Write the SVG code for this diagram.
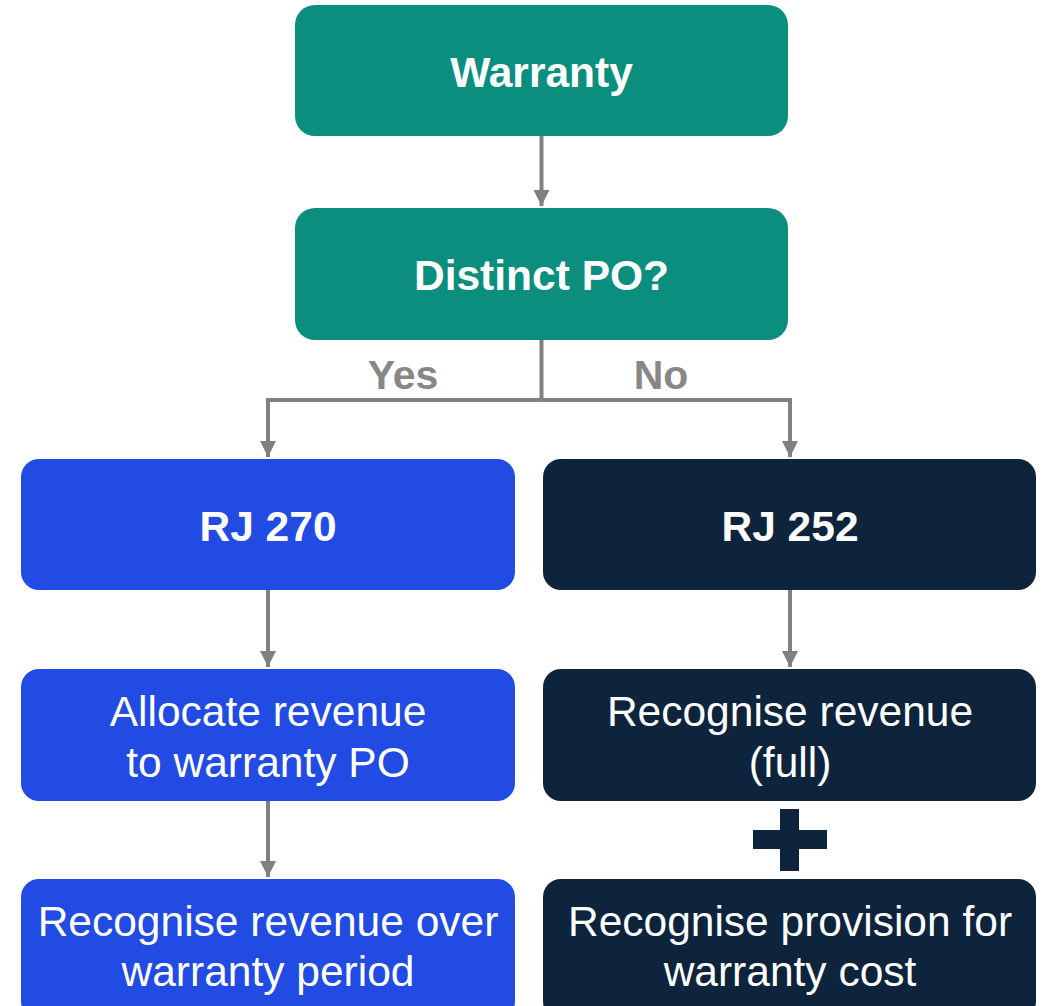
<svg xmlns="http://www.w3.org/2000/svg" width="1043" height="1006" viewBox="0 0 1043 1006">
  <style>
    .teal { fill: #0B8E7D; }
    .blue { fill: #214BE2; }
    .navy { fill: #0E233C; }
    .title { font-family: "Liberation Sans", Arial, sans-serif; font-size: 42.5px; font-weight: bold; fill: #FFFFFF; text-anchor: middle; }
    .body { font-family: "Liberation Sans", Arial, sans-serif; font-size: 42.5px; fill: #FFFFFF; text-anchor: middle; }
    .lbl { font-family: "Liberation Sans", Arial, sans-serif; font-size: 41px; font-weight: bold; fill: #878787; text-anchor: middle; }
    .conn { fill: none; stroke: #808080; stroke-width: 4; }
  </style>
  <defs>
    <marker id="arr" markerUnits="userSpaceOnUse" markerWidth="16" markerHeight="16" refX="16" refY="8" orient="auto" viewBox="0 0 16 16">
      <path d="M0,0 L16,8 L0,16 Z" fill="#808080"/>
    </marker>
  </defs>

  <g id="connectors">
    <path class="conn" d="M541.5,136 V206" marker-end="url(#arr)"/>
    <path class="conn" d="M541.5,340 V400"/>
    <path class="conn" d="M541.5,400 H268 V457" marker-end="url(#arr)"/>
    <path class="conn" d="M541.5,400 H790 V457" marker-end="url(#arr)"/>
    <path class="conn" d="M268,590 V667" marker-end="url(#arr)"/>
    <path class="conn" d="M790,590 V667" marker-end="url(#arr)"/>
    <path class="conn" d="M268,801 V877" marker-end="url(#arr)"/>
    <text class="lbl" x="403" y="389">Yes</text>
    <text class="lbl" x="661" y="389">No</text>
  </g>

  <g id="warranty">
    <rect class="teal" x="295" y="5" width="493" height="131" rx="20"/>
    <text class="title" x="541.5" y="87">Warranty</text>
  </g>
  <g id="distinct-po">
    <rect class="teal" x="295" y="208" width="493" height="132" rx="20"/>
    <text class="title" x="541.5" y="290">Distinct PO?</text>
  </g>
  <g id="rj270">
    <rect class="blue" x="21" y="459" width="494" height="131" rx="18"/>
    <text class="title" x="268" y="541">RJ 270</text>
  </g>
  <g id="rj252">
    <rect class="navy" x="543" y="459" width="493" height="131" rx="18"/>
    <text class="title" x="790" y="541">RJ 252</text>
  </g>
  <g id="allocate">
    <rect class="blue" x="21" y="669" width="494" height="132" rx="18"/>
    <text class="body" x="268" y="726">Allocate revenue</text>
    <text class="body" x="268" y="777">to warranty PO</text>
  </g>
  <g id="recognise-full">
    <rect class="navy" x="543" y="669" width="493" height="132" rx="18"/>
    <text class="body" x="790" y="726">Recognise revenue</text>
    <text class="body" x="790" y="777">(full)</text>
  </g>
  <g id="plus">
    <rect class="navy" x="753" y="830" width="74" height="19"/>
    <rect class="navy" x="780" y="809" width="19" height="62"/>
  </g>
  <g id="recognise-over">
    <rect class="blue" x="21" y="879" width="494" height="140" rx="18"/>
    <text class="body" x="268" y="936">Recognise revenue over</text>
    <text class="body" x="268" y="986">warranty period</text>
  </g>
  <g id="provision">
    <rect class="navy" x="543" y="879" width="493" height="140" rx="18"/>
    <text class="body" x="790" y="936">Recognise provision for</text>
    <text class="body" x="790" y="986">warranty cost</text>
  </g>
</svg>
